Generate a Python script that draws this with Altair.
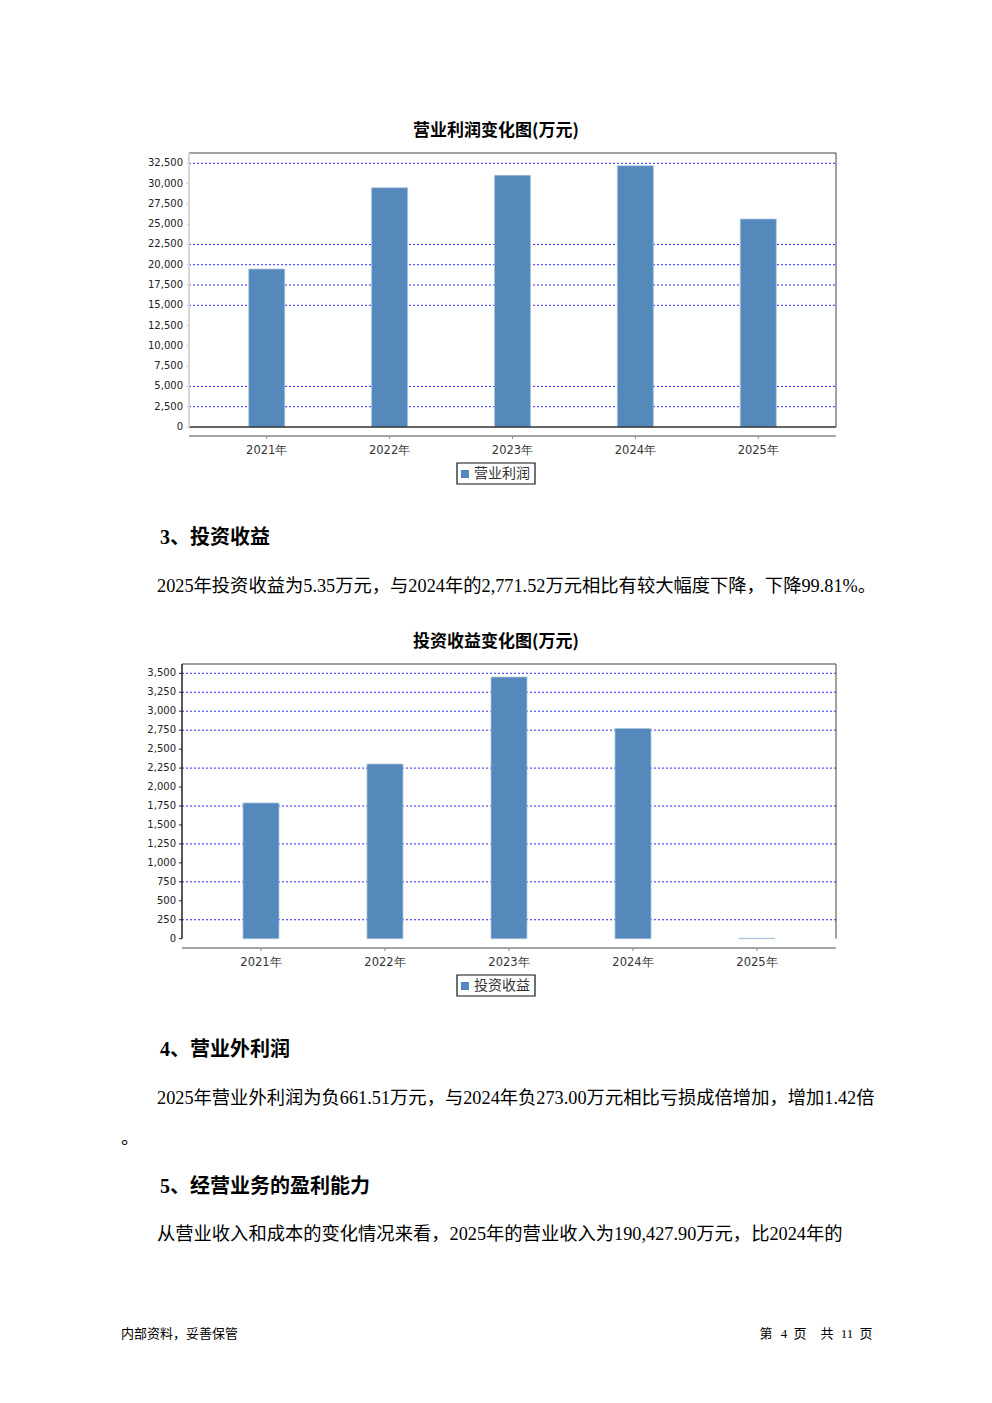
import altair as alt
import pandas as pd

# ---------------- data ----------------
years = ["2021年", "2022年", "2023年", "2024年", "2025年"]
op_profit = [19470, 29490, 31020, 32200, 25630]          # 营业利润 (万元)
inv_income = [1790, 2304, 3451, 2771.52, 5.35]            # 投资收益 (万元)
c1_ticks = [0, 2500, 5000, 7500, 10000, 12500, 15000, 17500, 20000, 22500, 25000, 27500, 30000, 32500]
c1_grid = [2500, 5000, 15000, 17500, 20000, 22500, 32500]
c2_ticks = [0, 250, 500, 750, 1000, 1250, 1500, 1750, 2000, 2250, 2500, 2750, 3000, 3250, 3500]
c2_grid = [250, 750, 1250, 1750, 2250, 2750, 3000, 3250, 3500]
c1_title = "营业利润变化图(万元)"
c2_title = "投资收益变化图(万元)"
c1_series = "营业利润"
c2_series = "投资收益"
headings = ["3、投资收益", "4、营业外利润", "5、经营业务的盈利能力"]
paragraphs = [
    "2025年投资收益为5.35万元，与2024年的2,771.52万元相比有较大幅度下降，下降99.81%。",
    "2025年营业外利润为负661.51万元，与2024年负273.00万元相比亏损成倍增加，增加1.42倍",
    "。",
    "从营业收入和成本的变化情况来看，2025年的营业收入为190,427.90万元，比2024年的",
]
footer_left = "内部资料，妥善保管"
footer_right = ["第", "4", "页", "共", "11", "页"]

# ---------------- layout helpers ----------------
M = 8  # page margin
W, H = 992 - 2 * M, 1403 - 2 * M
BODY_FONT = "Liberation Serif, Noto Sans CJK SC"
CJK = "Noto Sans CJK SC"
one = pd.DataFrame({"k": [0]})


def p(v):
    return v - M


def text(s, x, y, size, font=CJK, weight="normal", align="left", color="#000"):
    return alt.Chart(pd.DataFrame({"t": [s]})).mark_text(
        align=align, baseline="middle", font=font, fontSize=size,
        fontWeight=weight, color=color
    ).encode(x=alt.value(p(x)), y=alt.value(p(y)), text="t:N")


def hrule(x1, x2, y, color, w=1.0):
    return alt.Chart(one).mark_rule(color=color, strokeWidth=w).encode(
        x=alt.value(p(x1)), x2=alt.value(p(x2)), y=alt.value(p(y)))


def vrule(x, y1, y2, color, w=1.0):
    return alt.Chart(one).mark_rule(color=color, strokeWidth=w).encode(
        x=alt.value(p(x)), y=alt.value(p(y1)), y2=alt.value(p(y2)))


def rect(x1, y1, x2, y2, fill, stroke=None, w=1.0):
    kw = dict(fill=fill)
    if stroke:
        kw.update(stroke=stroke, strokeWidth=w)
    return alt.Chart(one).mark_rect(**kw).encode(
        x=alt.value(p(x1)), x2=alt.value(p(x2)), y=alt.value(p(y1)), y2=alt.value(p(y2)))


def panel(title, series, values, ticks, grid, ymax, g):
    L, R = g["left"], g["right"]
    xs = alt.Scale(type="band", domain=years, range=[p(L), p(R)],
                   paddingInner=g["pi"], paddingOuter=g["po"])
    ys = alt.Scale(domain=[0, ymax], range=[p(g["zero"]), p(g["ymax_y"])], nice=False, zero=True)
    df = pd.DataFrame({"year": years, "v": values})
    X = alt.X("year:N", scale=xs, axis=None, sort=years)
    Xc = alt.X("year:N", scale=xs, axis=None, sort=years, bandPosition=0.5)
    layers = []
    # title
    layers.append(text(title, 496, g["title_y"], 17, weight="bold", align="center"))
    # grid lines
    layers.append(alt.Chart(pd.DataFrame({"v": grid})).mark_rule(
        color="#2a2aff", strokeDash=[2, 2], strokeWidth=1).encode(
        y=alt.Y("v:Q", scale=ys, axis=None), x=alt.value(p(L)), x2=alt.value(p(R))))
    # bars
    layers.append(alt.Chart(df).mark_bar(color="#5588bb", stroke="#a8c4e0", strokeWidth=0.7).encode(
        x=X, y=alt.Y("v:Q", scale=ys, axis=None)))
    # frame
    layers.append(hrule(L, R, g["top"], "#444"))
    layers.append(vrule(R, g["top"], g["zero"], "#444"))
    if g["zero_line"]:
        layers.append(hrule(L, R, g["zero"], "#333", 1.5))
    layers.append(vrule(L, g["top"], g["zero"], g["yaxis_color"], g["yaxis_w"]))
    # y ticks + labels
    layers.append(alt.Chart(pd.DataFrame({"v": ticks})).mark_rule(color=g["yaxis_color"]).encode(
        y=alt.Y("v:Q", scale=ys, axis=None), x=alt.value(p(L - 3)), x2=alt.value(p(L))))
    layers.append(alt.Chart(pd.DataFrame({"v": ticks})).mark_text(
        align="right", baseline="middle", font="DejaVu Sans", fontSize=10, color="#222").encode(
        y=alt.Y("v:Q", scale=ys, axis=None), x=alt.value(p(L - 6)),
        text=alt.Text("v:Q", format=",")))
    # x axis
    layers.append(hrule(L, R, g["xaxis"], "#888", 1.5))
    layers.append(alt.Chart(df).mark_rule(color="#888").encode(
        x=Xc, y=alt.value(p(g["xaxis"])), y2=alt.value(p(g["xaxis"] + 3))))
    layers.append(alt.Chart(df).mark_text(
        baseline="middle", font="DejaVu Sans", fontSize=11.5, color="#333").encode(
        x=Xc, y=alt.value(p(g["xlab_y"])), text="year:N"))
    # legend
    ly = g["legend_y"]
    layers.append(rect(457, ly, 535, ly + 21, "white", "#111", 1.2))
    layers.append(rect(461, ly + 7, 469, ly + 15, "#5588bb"))
    layers.append(text(series, 474, ly + 11, 14, color="#333"))
    return layers


g1 = dict(left=189, right=836, top=153, zero=427, ymax_y=163.3, xaxis=436, xlab_y=450.5,
          title_y=131, legend_y=463, pi=0.707, po=0.486, zero_line=True,
          yaxis_color="#d6d6d6", yaxis_w=2)
g2 = dict(left=182, right=836, top=664, zero=938.7, ymax_y=673.3, xaxis=948, xlab_y=962.5,
          title_y=642, legend_y=975, pi=0.71, po=0.492, zero_line=False,
          yaxis_color="#222", yaxis_w=1.5)

layers = []
layers += panel(c1_title, c1_series, op_profit, c1_ticks, c1_grid, 32500, g1)
layers += panel(c2_title, c2_series, inv_income, c2_ticks, c2_grid, 3500, g2)

# headings and paragraphs
heading_pos = [(160, 538), (160, 1050), (160, 1187)]
for s, (x, y) in zip(headings, heading_pos):
    layers.append(text(s, x, y, 20, font=BODY_FONT, weight="bold"))
para_pos = [(157, 587), (157, 1099), (121, 1139), (157, 1235)]
for s, (x, y) in zip(paragraphs, para_pos):
    layers.append(text(s, x, y, 18.3, font=BODY_FONT))

layers.append(text(footer_left, 121, 1334, 13, font=BODY_FONT))
footer_x = [766, 784, 800, 827, 847, 866]
for s, x in zip(footer_right, footer_x):
    layers.append(text(s, x, 1334, 13, font=BODY_FONT, align="center"))

chart = alt.layer(*layers).resolve_scale(x="independent", y="independent").properties(
    width=W, height=H, padding=0, autosize=alt.AutoSizeParams(type="none")
).configure_view(stroke=None)

chart.save("out.html", embed_options={"renderer": "svg", "actions": False})
